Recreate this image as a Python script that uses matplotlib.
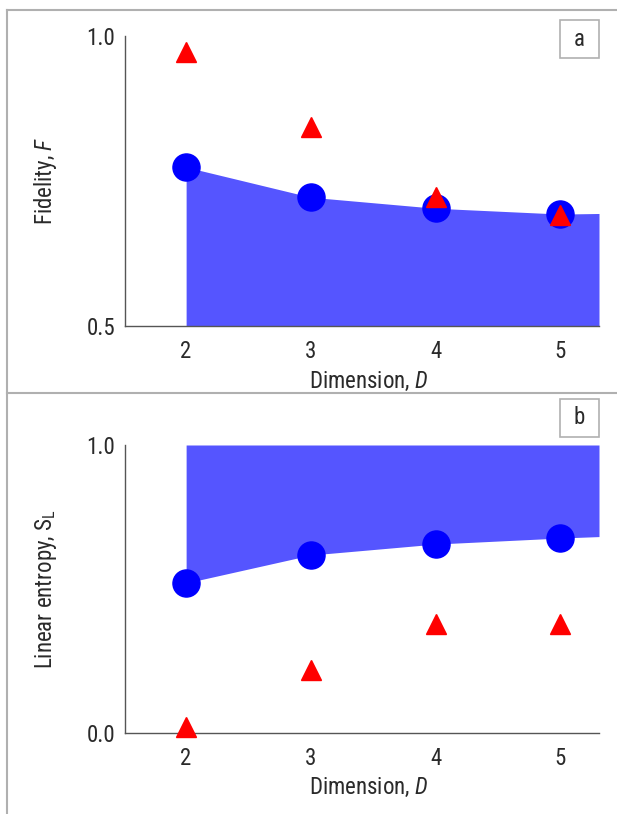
import matplotlib
matplotlib.use("Agg")
import matplotlib.pyplot as plt
from matplotlib.lines import Line2D
from matplotlib.patches import Rectangle
from matplotlib import font_manager

# ---- data ----
dims = [2, 3, 4, 5]
fidelity_circle = [0.774, 0.722, 0.703, 0.693]
fidelity_triangle = [0.972, 0.843, 0.722, 0.691]
fid_bound_x = [2, 3, 4, 5, 5.31]
fid_bound_y = [0.774, 0.722, 0.703, 0.693, 0.694]

entropy_circle = [0.521, 0.618, 0.656, 0.677]
entropy_triangle = [0.02, 0.22, 0.38, 0.378]
ent_bound_x = [2, 3, 4, 5, 5.31]
ent_bound_y = [0.521, 0.618, 0.656, 0.677, 0.682]

fid_ticks = [0.5, 1.0]
fid_ticklabels = ["0.5", "1.0"]
ent_ticks = [0.0, 1.0]
ent_ticklabels = ["0.0", "1.0"]
x_ticklabels = ["2", "3", "4", "5"]

# ---- style ----
names = {f.name for f in font_manager.fontManager.ttflist}
fam = "DejaVu Sans"
for cand in ["Roboto Condensed", "Liberation Sans Narrow", "Open Sans Condensed",
             "Liberation Sans", "Roboto"]:
    if cand in names:
        fam = cand
        break
plt.rcParams["font.family"] = [fam, "DejaVu Sans"]
plt.rcParams["mathtext.fontset"] = "custom"
plt.rcParams["mathtext.it"] = fam + ":italic"
plt.rcParams["mathtext.rm"] = fam

TXT = "#2a2a2a"
SPINE = "#555555"
FILL = "#5555ff"
FS = 16.5

fig = plt.figure(figsize=(6.17, 8.14), dpi=100)
W, H = 617, 814

def ax_rect(l, t, r, b):
    return [l / W, 1 - b / H, (r - l) / W, (b - t) / H]

ax1 = fig.add_axes(ax_rect(125, 36, 599, 326))
ax2 = fig.add_axes(ax_rect(125, 445, 599, 733))

def style(ax, ticks, ticklabels, ylabel):
    ax.set_xlim(1.51, 5.31)
    ax.set_xticks(dims)
    ax.set_xticklabels(x_ticklabels)
    ax.set_yticks(ticks)
    ax.set_yticklabels(ticklabels)
    ax.tick_params(length=0, labelsize=FS, colors=TXT, pad=7)
    ax.tick_params(axis="x", pad=10)
    for s in ["top", "right"]:
        ax.spines[s].set_visible(False)
    for s in ["left", "bottom"]:
        ax.spines[s].set_color(SPINE)
        ax.spines[s].set_linewidth(1.0)
    ax.set_xlabel(r"Dimension, $\mathit{D}$", fontsize=FS, color=TXT)
    ax.xaxis.set_label_coords(0.515, -0.15)
    ax.set_ylabel(ylabel, fontsize=FS, color=TXT)
    ax.yaxis.set_label_coords(-0.139, 0.5)

# Panel a
ax1.set_ylim(0.5, 1.0)
ax1.fill_between(fid_bound_x, 0.5, fid_bound_y, color=FILL, linewidth=0, zorder=1)
ax1.plot(dims, fidelity_circle, "o", color="#0000ff", markersize=19.5, zorder=3, clip_on=False)
ax1.plot(dims, fidelity_triangle, "^", color="#ff0000", markersize=14.5, zorder=4, clip_on=False)
style(ax1, fid_ticks, fid_ticklabels, r"Fidelity, $\mathit{F}$")

# Panel b
ax2.set_ylim(0.0, 1.0)
ax2.fill_between(ent_bound_x, ent_bound_y, 1.0, color=FILL, linewidth=0, zorder=1)
ax2.plot(dims, entropy_circle, "o", color="#0000ff", markersize=19.5, zorder=3, clip_on=False)
ax2.plot(dims, entropy_triangle, "^", color="#ff0000", markersize=14.5, zorder=4, clip_on=False)
style(ax2, ent_ticks, ent_ticklabels, r"Linear entropy, S$_\mathregular{L}$")

# Panel frames
FRAME = "#b0b0b0"
fig.add_artist(Line2D([7 / W, 1], [1 - 10 / H, 1 - 10 / H], color=FRAME, lw=1.5))
fig.add_artist(Line2D([7 / W, 7 / W], [0, 1 - 10 / H], color=FRAME, lw=1.5))
fig.add_artist(Line2D([7 / W, 1], [1 - 393 / H, 1 - 393 / H], color=FRAME, lw=1.5))

# Panel label boxes
for lab, top in [("a", 20), ("b", 399)]:
    l, r, b = 560, 599, top + 38
    fig.add_artist(Rectangle((l / W, 1 - b / H), (r - l) / W, 38 / H,
                             transform=fig.transFigure, facecolor="white",
                             edgecolor=FRAME, lw=1.2))
    fig.text((l + r) / 2 / W, 1 - (top + 19) / H, lab, ha="center", va="center",
             fontsize=FS, color=TXT)

fig.savefig("out.png", dpi=100)
